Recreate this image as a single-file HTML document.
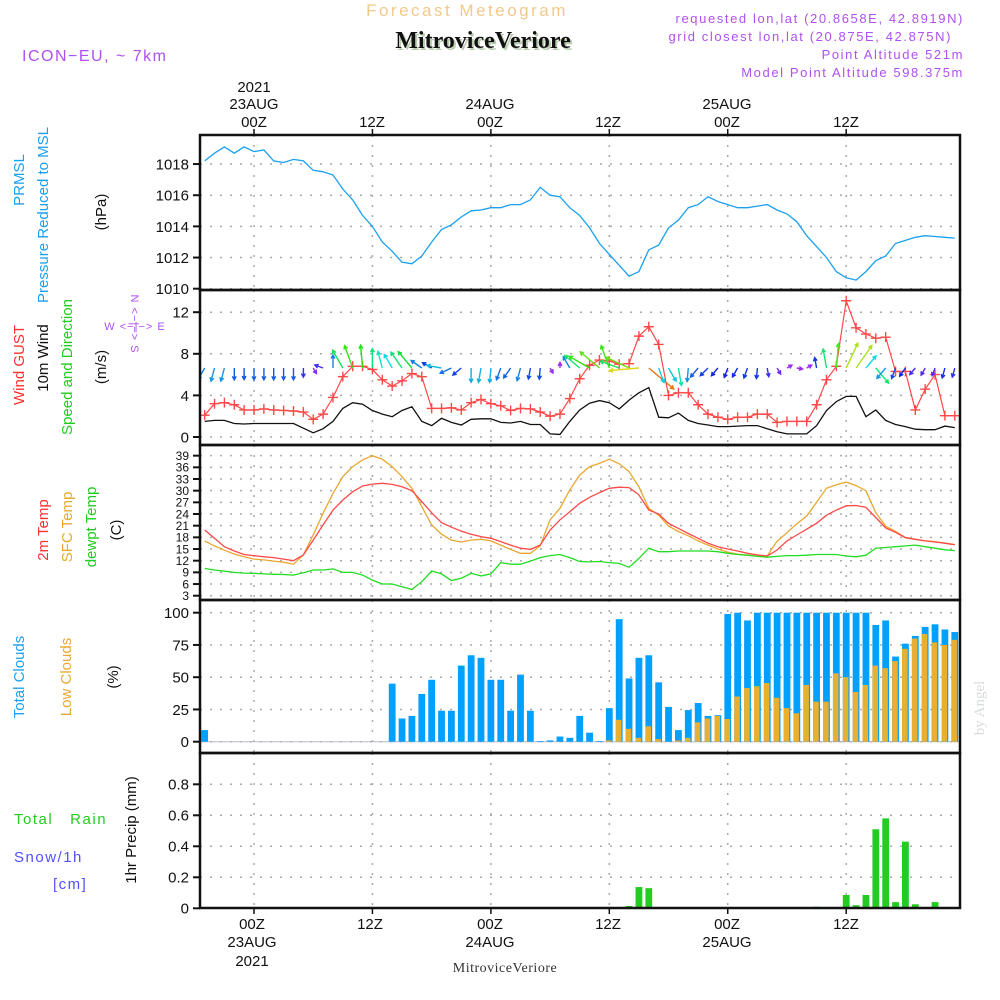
<!DOCTYPE html>
<html><head><meta charset="utf-8"><title>Forecast Meteogram MitroviceVeriore</title>
<style>
html,body{margin:0;padding:0;background:#fff;}
svg{display:block;font-family:"Liberation Sans",sans-serif;}
.tk{font-size:15px;fill:#111;}
.tt{font-size:15px;fill:#111;text-anchor:middle;}
.info{font-size:13px;fill:#b050f0;letter-spacing:1.6px;text-anchor:end;}
</style></head>
<body>
<svg id="chart" width="1000" height="1000" viewBox="0 0 1000 1000">
<defs>
<clipPath id="c1"><rect x="200" y="135" width="760" height="155"/></clipPath>
<clipPath id="c2"><rect x="200" y="290" width="760" height="155"/></clipPath>
<clipPath id="c3"><rect x="200" y="445" width="760" height="155"/></clipPath>
<clipPath id="c4"><rect x="200" y="600" width="760" height="153"/></clipPath>
<clipPath id="c5"><rect x="200" y="753" width="760" height="155"/></clipPath>
</defs>
<text x="467" y="16" font-size="17" fill="#f2c98a" text-anchor="middle" letter-spacing="2.5">Forecast Meteogram</text>
<text x="485" y="50" font-size="24" font-weight="bold" font-family="Liberation Serif, serif" fill="#b8ccb0" text-anchor="middle">MitroviceVeriore</text>
<text x="483" y="48" font-size="24" font-weight="bold" font-family="Liberation Serif, serif" fill="#111" text-anchor="middle">MitroviceVeriore</text>
<text x="22" y="61" font-size="16" fill="#b050f0" letter-spacing="1.5">ICON−EU, ~ 7km</text>
<text x="964" y="23" class="info">requested lon,lat (20.8658E, 42.8919N)</text>
<text x="952" y="41" class="info">grid closest lon,lat (20.875E, 42.875N)</text>
<text x="964" y="59" class="info">Point Altitude 521m</text>
<text x="964" y="77" class="info">Model Point Altitude 598.375m</text>

<g>
<text x="254" y="92" class="tt">2021</text>
<text x="254" y="109" class="tt">23AUG</text>
<text x="254" y="127" class="tt">00Z</text>
<text x="372" y="127" class="tt">12Z</text>
<text x="490" y="109" class="tt">24AUG</text>
<text x="490" y="127" class="tt">00Z</text>
<text x="608" y="127" class="tt">12Z</text>
<text x="727" y="109" class="tt">25AUG</text>
<text x="727" y="127" class="tt">00Z</text>
<text x="846" y="127" class="tt">12Z</text>
</g>
<g>
<text x="252" y="929" class="tt">00Z</text>
<text x="252" y="947" class="tt">23AUG</text>
<text x="252" y="966" class="tt">2021</text>
<text x="370" y="929" class="tt">12Z</text>
<text x="490" y="929" class="tt">00Z</text>
<text x="490" y="947" class="tt">24AUG</text>
<text x="608" y="929" class="tt">12Z</text>
<text x="727" y="929" class="tt">00Z</text>
<text x="727" y="947" class="tt">25AUG</text>
<text x="846" y="929" class="tt">12Z</text>
</g>
<text x="505" y="972" font-size="14" font-family="Liberation Serif, serif" fill="#333" text-anchor="middle" letter-spacing="0.5">MitroviceVeriore</text>
<text transform="translate(984,708) rotate(-90)" font-size="15" font-family="Liberation Serif, serif" fill="#d8dcd8" text-anchor="middle">by Angel</text>

<g>
<text transform="translate(24,180) rotate(-90)" font-size="15" fill="#1aa0f0" text-anchor="middle">PRMSL</text>
<text transform="translate(48,215) rotate(-90)" font-size="15" fill="#1aa0f0" text-anchor="middle">Pressure Reduced to MSL</text>
<text transform="translate(106,212) rotate(-90)" font-size="15" fill="#111" text-anchor="middle">(hPa)</text>
</g>
<g>
<text transform="translate(24,365) rotate(-90)" font-size="15" fill="#ff3030" text-anchor="middle">Wind GUST</text>
<text transform="translate(48,358) rotate(-90)" font-size="15" fill="#111" text-anchor="middle">10m Wind</text>
<text transform="translate(72,367) rotate(-90)" font-size="15" fill="#22cc22" text-anchor="middle">Speed and Direction</text>
<text transform="translate(106,367) rotate(-90)" font-size="15" fill="#111" text-anchor="middle">(m/s)</text>
<text x="135" y="330" font-size="11" fill="#b050f0" text-anchor="middle" letter-spacing="1">W &lt;−|−&gt; E</text>
<text transform="translate(131,324) rotate(90)" font-size="11" fill="#b050f0" text-anchor="middle" letter-spacing="1">N &lt;−|−&gt; S</text>
</g>
<g>
<text transform="translate(48,530) rotate(-90)" font-size="15" fill="#ff3030" text-anchor="middle">2m Temp</text>
<text transform="translate(72,527) rotate(-90)" font-size="15" fill="#e8a830" text-anchor="middle">SFC Temp</text>
<text transform="translate(96,527) rotate(-90)" font-size="15" fill="#22cc22" text-anchor="middle">dewpt Temp</text>
<text transform="translate(121,530) rotate(-90)" font-size="15" fill="#111" text-anchor="middle">(C)</text>
</g>
<g>
<text transform="translate(24,677) rotate(-90)" font-size="15" fill="#1aa0f0" text-anchor="middle">Total Clouds</text>
<text transform="translate(71,677) rotate(-90)" font-size="15" fill="#e8a830" text-anchor="middle">Low Clouds</text>
<text transform="translate(118,677) rotate(-90)" font-size="15" fill="#111" text-anchor="middle">(%)</text>
</g>
<g>
<text x="14" y="824" font-size="15" fill="#22cc22" letter-spacing="1.5" xml:space="preserve">Total   Rain</text>
<text x="14" y="862" font-size="15" fill="#5050ff" letter-spacing="1.5">Snow/1h</text>
<text x="53" y="889" font-size="15" fill="#5050ff" letter-spacing="1.5">[cm]</text>
<text transform="translate(136,830) rotate(-90)" font-size="15" fill="#111" text-anchor="middle">1hr Precip (mm)</text>
</g>
<g id="grid"></g>
<g id="marks"></g>
<g id="frames"></g>
</svg>
<script>
// ---- data (hours relative to 00Z 23AUG, hourly from -5 to 71) ----
const hourStart = -5;
const pressure = [1018.2,1018.7,1019.1,1018.7,1019.1,1018.8,1018.9,1018.2,1018.1,1018.3,1018.2,1017.6,1017.5,1017.3,1016.4,1015.7,1014.7,1014.0,1013.0,1012.4,1011.7,1011.6,1012.1,1013.0,1013.8,1014.1,1014.6,1015.0,1015.05,1015.2,
1015.2,1015.4,1015.4,1015.7,1016.5,1016.0,1015.9,1015.2,1014.7,1013.9,1012.9,1012.2,1011.5,1010.8,1011.1,1012.5,1012.8,1013.9,1014.4,1015.2,1015.4,1015.9,1015.6,1015.4,1015.2,1015.2,1015.3,1015.4,1015.05,1014.8,1014.3,1013.4,1012.7,1012.0,1011.1,1010.7,1010.55,1011.1,1011.8,1012.1,1012.9,1013.1,1013.3,1013.4,1013.35,1013.3,1013.25];
const gust = [2.1,3.2,3.3,3.1,2.6,2.6,2.7,2.6,2.55,2.5,2.4,1.7,2.2,3.8,5.8,6.8,6.8,6.5,5.5,4.9,5.4,6.1,5.8,2.75,2.75,2.8,2.6,3.3,3.6,3.2,3.0,2.55,2.75,2.7,2.4,2.0,2.2,3.7,5.6,
6.9,7.4,7.3,7.0,7.05,9.7,10.6,8.9,4.0,4.25,4.25,3.1,2.2,1.9,1.7,1.9,1.9,2.2,2.2,1.4,1.5,1.5,1.5,3.1,5.5,6.8,13.1,10.5,9.9,9.5,9.6,6.3,6.3,2.6,4.6,6.0,2.05,2.05];
const windSpeed = [1.5,1.6,1.6,1.3,1.25,1.3,1.3,1.3,1.3,1.3,0.85,0.4,0.8,1.5,2.75,3.3,3.15,2.55,2.2,1.95,2.55,2.9,1.5,1.1,1.8,1.4,1.15,1.7,1.75,1.75,1.4,1.35,1.5,1.2,1.2,0.3,0.25,1.5,2.6,
3.25,3.5,3.3,2.7,3.55,4.25,4.75,1.9,1.85,2.3,1.6,1.3,1.15,1.0,1.0,1.05,1.1,1.1,0.8,0.5,0.3,0.3,0.3,1.1,2.55,3.4,3.9,3.9,1.95,2.6,1.6,1.2,1.0,0.75,0.7,0.7,1.05,0.9];
const windToDir = [210,195,195,180,180,180,180,180,180,180,180,
150,290,0,330,340,355,0,345,330,325,320,305,300,280,245,230,
180,190,185,200,215,195,190,185,150,0,330,310,
300,310,340,290,295,265,130,160,150,170,185,220,225,220,200,210,200,185,170,150,60,100,60,350,350,5,25,35,40,140,220,200,215,220,210,200,195,195];
const temp2m = [19.9,17.75,15.6,14.5,13.6,13.3,13.0,12.8,12.4,12.0,13.5,17.3,21.2,25.0,27.6,29.7,31.2,31.7,31.9,31.6,31.0,30.0,27.2,24.3,21.8,20.6,19.6,18.8,18.2,17.75,16.9,16.0,15.2,14.9,16.0,19.9,22.5,24.6,26.75,28.3,29.5,
30.6,30.9,30.8,28.9,25.0,24.0,21.6,20.3,19.0,17.75,16.5,15.6,15.0,14.5,13.9,13.5,13.2,14.75,17.1,18.6,20.1,21.6,23.7,25.0,26.1,26.2,25.7,23.1,20.4,19.3,17.9,17.5,17.1,16.8,16.5,16.1];
const tempSfc = [17.1,15.8,14.7,13.7,13.0,12.4,12.2,11.9,11.6,11.1,13.5,18.6,24.2,29.3,33.6,36.2,37.9,39.0,38.1,36.2,33.6,30.6,25.9,21.2,18.8,17.3,16.8,17.3,17.5,17.1,16.0,14.9,13.9,13.9,15.8,22.5,25.5,30.2,34.0,36.2,37.0,
38.1,36.9,34.9,31.0,25.5,23.7,20.9,19.5,18.4,17.1,16.0,15.0,14.2,13.7,13.4,13.2,13.2,17.0,19.2,21.5,23.5,27.0,30.6,31.5,32.2,31.3,30.0,24.3,20.9,19.5,18.0,17.5,17.1,16.9,16.5,16.1];
const dewpoint = [10.0,9.6,9.3,9.0,8.8,8.75,8.6,8.5,8.45,8.3,8.9,9.6,9.6,9.9,9.0,9.0,8.3,7.0,6.0,6.0,5.3,4.6,6.6,9.35,8.6,6.9,7.5,8.75,8.1,8.6,11.5,11.1,11.1,11.9,12.8,13.3,13.6,12.8,11.8,11.7,11.8,
11.5,11.3,10.3,12.6,15.2,14.3,14.3,14.5,14.5,14.5,14.5,14.3,13.9,13.6,13.4,13.1,12.9,13.1,13.3,13.3,13.4,13.6,13.6,13.6,13.2,13.0,13.4,15.2,15.4,15.6,15.8,16.0,15.6,15.2,14.8,14.6];
const totalClouds = [9,0,0,0,0,0,0,0,0,0,0,0,0,0,0,0,0,0,0,
45,18,20,37,48,24,24,59,67,65,48,48,24,52,24,0.5,1,4,3,20,7,0.5,
26,95,49,65,67,46,27,9,24.5,30,20,20.6,99,100,94,100,100,100,100,100,100,100,100,100,100,100,100,90.5,94,66,76,82,89,91,87,85,82];
const lowClouds = [0,0,0,0,0,0,0,0,0,0,0,0,0,0,0,0,0,0,0,0,0,0,0,0,0,0,0,0,0,0,0,0,0,0,0,0,0,0,0,0,0,
1,17,10,3,12,2,0,1,3,15,18,20,17.6,35,41.6,43,45.5,34,26,22,44,31,31,53,50,38.6,44,59,57,62.5,72,80,83.5,77,75,79];
const precipHours = [37,38,39,40,57,60,61,62,63,64,65,66,67,68,69];
const precipValues = [0.005,0.015,0.137,0.13,0.01,0.086,0.02,0.086,0.51,0.58,0.04,0.43,0.026,0.005,0.04];
// tick labels
const pressureTicks = [1010,1012,1014,1016,1018];
const windTicks = [0,4,8,12];
const tempTicks = [3,6,9,12,15,18,21,24,27,30,33,36,39];
const cloudTicks = [0,25,50,75,100];
const precipTicks = [0,0.2,0.4,0.6,0.8];
const timeGridHours = [0,12,24,36,48,60];

// ---- scales ----
const xH = h => 254 + h*9.87;
const yP = v => 288.7 - (v-1010)*15.58;
const yW = v => 437 - v*10.4;
const yT = v => 595.7 - (v-3)*3.89;
const yC = v => 741.7 - v*1.29;
const yR = v => 908.3 - v*155;

const NS = 'http://www.w3.org/2000/svg';
const grid = document.getElementById('grid');
const marks = document.getElementById('marks');
const frames = document.getElementById('frames');
function mk(tag, attrs, parent){
  const e = document.createElementNS(NS, tag);
  for (const k in attrs) e.setAttribute(k, attrs[k]);
  parent.appendChild(e);
  return e;
}

const panels = [
  {y0:135, y1:290, ticks:pressureTicks, sc:yP, fmt:v=>String(v), name:'pressure', fs:15},
  {y0:290, y1:445, ticks:windTicks, sc:yW, fmt:v=>String(v), name:'wind', fs:15},
  {y0:445, y1:600, ticks:tempTicks, sc:yT, fmt:v=>String(v), name:'temperature', fs:12},
  {y0:600, y1:753, ticks:cloudTicks, sc:yC, fmt:v=>String(v), name:'clouds', fs:15},
  {y0:753, y1:908, ticks:precipTicks, sc:yR, fmt:v=>v===0?'0':v.toFixed(1), name:'precip', fs:15}
];
panels.forEach((p, pi) => {
  timeGridHours.forEach(h => {
    const g = mk('line', {x1:xH(h), x2:xH(h), y1:p.y0, y2:p.y1, stroke:'#aaa', 'stroke-width':1.5, 'stroke-dasharray':'2,8'}, grid);
    
    
  });
  p.ticks.forEach(v => {
    const y = p.sc(v);
    const g = mk('line', {x1:200, x2:960, y1:y, y2:y, stroke:'#aaa', 'stroke-width':1.5, 'stroke-dasharray':'2,8'}, grid);
    
    
    const t = mk('line', {x1:193, x2:200, y1:y, y2:y, stroke:'#111', 'stroke-width':2}, grid);
    
    
    const lb = mk('text', {x:189, y:y + p.fs*0.36, 'text-anchor':'end', 'font-size':p.fs, fill:'#111'}, grid);
    lb.textContent = p.fmt(v);
    
    
  });
  const fr = mk('rect', {x:200, y:p.y0, width:760, height:p.y1-p.y0, fill:'none', stroke:'#111', 'stroke-width':2.5}, frames);
  
  
});
[0,12,24,36,48,60].forEach(h => {
  const a = mk('line', {x1:xH(h), x2:xH(h), y1:129, y2:135, stroke:'#111', 'stroke-width':1.5}, frames);
  
  
  const b = mk('line', {x1:xH(h), x2:xH(h), y1:908, y2:914, stroke:'#111', 'stroke-width':1.5}, frames);
  
  
});

function linePath(arr, sc){
  return arr.map((v,i) => (i?'L':'M') + xH(hourStart+i).toFixed(1) + ',' + sc(v).toFixed(1)).join('');
}
// pressure
const pl = mk('path', {d:linePath(pressure, yP), fill:'none', stroke:'#1aa0f0', 'stroke-width':1.3, 'clip-path':'url(#c1)'}, marks);


// wind speed
const ws = mk('path', {d:linePath(windSpeed, yW), fill:'none', stroke:'#111', 'stroke-width':1.3, 'clip-path':'url(#c2)'}, marks);


// gust line + crosses
const gl = mk('path', {d:linePath(gust, yW), fill:'none', stroke:'#ff4848', 'stroke-width':1.2, 'clip-path':'url(#c2)'}, marks);


gust.forEach((v,i) => {
  const x = xH(hourStart+i), y = yW(v);
  const c = mk('path', {d:`M${x-5},${y}H${x+5}M${x},${y-5}V${y+5}`, stroke:'#ff4848', 'stroke-width':1.4, 'clip-path':'url(#c2)'}, marks);
  
  
});
// wind direction arrows (colour by speed)
windToDir.forEach((d,i) => {
  const s = windSpeed[i];
  const x0 = xH(hourStart+i), y0 = 368;
  const len = 4 + 6*s;
  const r = d*Math.PI/180;
  const x1 = x0 + len*Math.sin(r), y1 = y0 - len*Math.cos(r);
  const hue = Math.max(28, 290 - s*55);
  const col = `hsl(${hue},85%,${hue>240?55:48}%)`;
  const hl = 4;
  const a1 = r + Math.PI - 0.5, a2 = r + Math.PI + 0.5;
  const dd = `M${x0.toFixed(1)},${y0}L${x1.toFixed(1)},${y1.toFixed(1)}M${(x1+hl*Math.sin(a1)).toFixed(1)},${(y1-hl*Math.cos(a1)).toFixed(1)}L${x1.toFixed(1)},${y1.toFixed(1)}L${(x1+hl*Math.sin(a2)).toFixed(1)},${(y1-hl*Math.cos(a2)).toFixed(1)}`;
  const ar = mk('path', {d:dd, fill:'none', stroke:col, 'stroke-width':1.4, 'clip-path':'url(#c2)'}, marks);
  
  
});
// temperatures
const tsf = mk('path', {d:linePath(tempSfc, yT), fill:'none', stroke:'#e8a830', 'stroke-width':1.3, 'clip-path':'url(#c3)'}, marks);


const t2 = mk('path', {d:linePath(temp2m, yT), fill:'none', stroke:'#ff4848', 'stroke-width':1.3, 'clip-path':'url(#c3)'}, marks);


const dw = mk('path', {d:linePath(dewpoint, yT), fill:'none', stroke:'#22dd22', 'stroke-width':1.3, 'clip-path':'url(#c3)'}, marks);


// clouds
const zl = mk('line', {x1:200, x2:960, y1:yC(0), y2:yC(0), stroke:'#b8b8c8', 'stroke-width':1}, marks);


totalClouds.forEach((v,i) => {
  if (v <= 0) return;
  const xc = xH(hourStart+i);
  const b = mk('rect', {x:xc-3.4, y:yC(v), width:6.8, height:yC(0)-yC(v), fill:'#00a0ff', 'clip-path':'url(#c4)'}, marks);
  
  
});
lowClouds.forEach((v,i) => {
  if (v <= 0) return;
  const xc = xH(hourStart+i);
  const b = mk('rect', {x:xc-3.4, y:yC(v), width:5.6, height:yC(0)-yC(v), fill:'#e8b030', 'clip-path':'url(#c4)'}, marks);
  
  
});
// precip
const pz = mk('line', {x1:200, x2:960, y1:yR(0), y2:yR(0), stroke:'#111', 'stroke-width':1}, marks);


precipValues.forEach((v,i) => {
  const xc = xH(precipHours[i]);
  const b = mk('rect', {x:xc-3.4, y:yR(v), width:6.8, height:Math.max(1, yR(0)-yR(v)), fill:'#22cc22', 'clip-path':'url(#c5)'}, marks);
  
  
});
</script>
</body></html>
